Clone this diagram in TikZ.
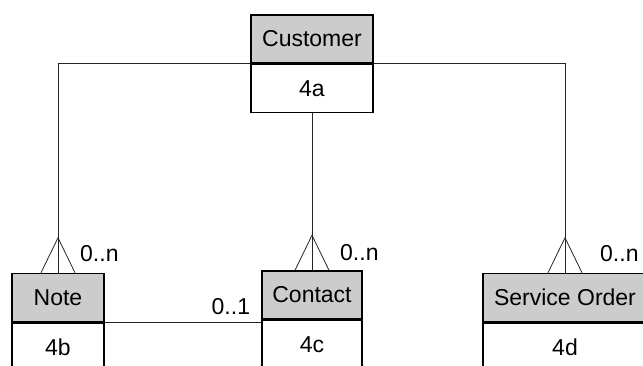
\documentclass[tikz,border=0pt]{standalone}
\usepackage{fontspec}
\setmainfont{Liberation Sans}
\usetikzlibrary{
	calc,
	positioning,
}
\tikzset{
	card font/.style={font=\fontsize{23}{27}\selectfont},
	head box/.style={
		draw,
		fill=black!20,
		line width=1.5pt,
		inner sep=0mm,
		minimum height=48pt,
		card font,
	},
	body box/.style={
		draw,
		fill=white,
		line width=1.5pt,
		inner sep=0mm,
		minimum height=48pt,
		card font,
	},
	link/.style={line width=0.8pt, black!85},
	mult/.style={inner sep=0mm, card font},
}

\begin{document}
\begin{tikzpicture}[x=1pt,y=1pt]
\clip (0,0) rectangle (643,-365);

\foreach \n \x \y \w \t \c in {
	a/312/39/122/Customer/4a
	,b/58/297.5/92/Note/4b
	,c/312/295/100/Contact/4c
	,d/565/297.5/164/Service Order/4d
}{
	\node(h\n)[head box, minimum width=\w pt] at(\x,-\y) {\t};
	\node(b\n)[body box, minimum width=\w pt, below=0pt of h\n] {\c};
}

\draw[link] (hb.north) |- (ba.north west);
\draw[link] (hd.north) |- (ba.north east);
\draw[link] (ba.south) -- (hc.north);
\draw[link] (bb.north east) -- (bb.north east -| hc.west);

% crow's feet
\foreach \n in {b,c,d}{
	\draw[link] ($(h\n.north)+(-17,0)$) -- ($(h\n.north)+(0,35)$) -- ($(h\n.north)+(17,0)$);
}

% multiplicities
\foreach \n \dx \dy in {
	b/22/11
	,c/28/10
	,d/35/11
}{
	\node(m\n)[mult, anchor=base west] at($(h\n.north)+(\dx,\dy)$) {0..n};
}
\node(mbc)[mult, anchor=base east] at($(hc.south west)+(-11,5)$) {0..1};
\end{tikzpicture}
\end{document}
